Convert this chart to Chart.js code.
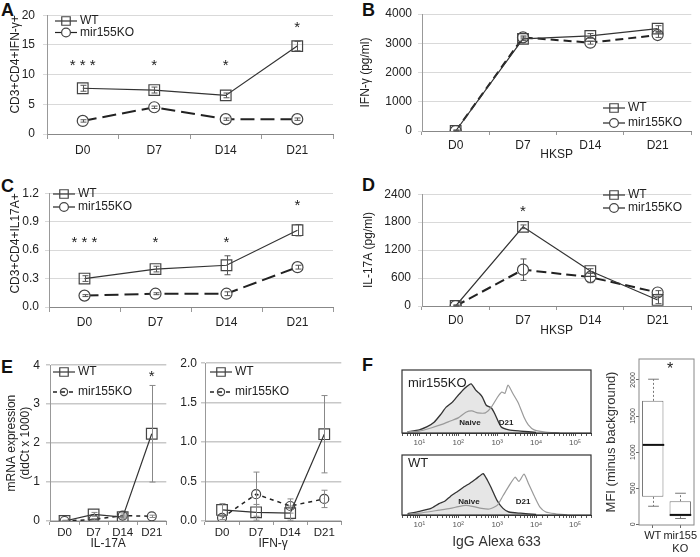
<!DOCTYPE html>
<html>
<head>
<meta charset="utf-8">
<title>mir155KO vs WT</title>
<script src="https://cdn.jsdelivr.net/npm/chart.js@4.4.1/dist/chart.umd.min.js"></script>
<style>
  body { margin: 0; width: 700px; height: 557px; position: relative; overflow: hidden; background: #fff;
         font-family: "Liberation Sans", Arial, sans-serif; color: #222; }
  canvas { position: absolute; }
  .panel { position: absolute; font-weight: bold; font-size: 18px; line-height: 18px; color: #111; }
  .note { position: absolute; line-height: 1; white-space: nowrap; font-size: 13px; color: #222; }
  .mid { position: absolute; transform: translate(-50%, -50%); font-weight: bold; font-size: 8px; color: #222; white-space: nowrap; }
</style>
</head>
<body>
<div class="panel" style="left:1px;top:1px">A</div>
<div class="panel" style="left:362px;top:1px">B</div>
<div class="panel" style="left:1px;top:177px">C</div>
<div class="panel" style="left:362px;top:176px">D</div>
<div class="panel" style="left:1px;top:358px">E</div>
<div class="panel" style="left:362px;top:356px">F</div>

<canvas id="chartA" width="345" height="172" style="left:0;top:0"></canvas>
<canvas id="chartB" width="350" height="162" style="left:350px;top:0"></canvas>
<canvas id="chartC" width="345" height="172" style="left:0;top:180px"></canvas>
<canvas id="chartD" width="350" height="158" style="left:350px;top:180px"></canvas>
<canvas id="chartE1" width="175" height="199" style="left:0;top:352px"></canvas>
<canvas id="chartE2" width="175" height="199" style="left:175px;top:352px"></canvas>
<canvas id="histKO" width="215" height="95" style="left:380px;top:362px"></canvas>
<canvas id="histWT" width="215" height="106" style="left:380px;top:445px"></canvas>
<canvas id="boxMFI" width="98" height="205" style="left:602px;top:352px"></canvas>

<div class="note" style="left:408px;top:376px">mir155KO</div>
<div class="note" style="left:408px;top:456px">WT</div>
<div class="mid" style="left:470px;top:422px">Naive</div>
<div class="mid" style="left:506px;top:422px">D21</div>
<div class="mid" style="left:469px;top:501px">Naive</div>
<div class="mid" style="left:523px;top:501px">D21</div>
<div class="mid" style="left:670px;top:369px;font-size:16px;font-weight:normal">*</div>

<script>
// time points
const days = ['D0', 'D7', 'D14', 'D21'];

// A - CD3+CD4+IFN-γ+
const aWT = [7.7, 7.4, 6.5, 14.8];
const aWTerr = [0.5, 0.5, 0.4, 0.8];
const aKO = [2.2, 4.5, 2.5, 2.5];
const aKOerr = [0.2, 0.2, 0.2, 0.2];
const aStars = ['* * *', '*', '*', '*'];
const aStarY = [11.9, 11.9, 11.9, 18.3];
const aTicks = [0, 5, 10, 15, 20];

// B - IFN-γ (pg/ml)
const bWT = [0, 3150, 3250, 3500];
const bWTerr = [30, 60, 80, 100];
const bKO = [0, 3200, 3020, 3280];
const bKOerr = [30, 50, 50, 80];
const bTicks = [0, 1000, 2000, 3000, 4000];

// C - CD3+CD4+IL17A+
const cWT = [0.30, 0.40, 0.44, 0.81];
const cWTerr = [0.03, 0.03, 0.10, 0.06];
const cKO = [0.12, 0.14, 0.14, 0.42];
const cKOerr = [0.01, 0.01, 0.02, 0.02];
const cStars = ['* * *', '*', '*', '*'];
const cStarY = [0.71, 0.71, 0.71, 1.10];
const cTicks = [0, 0.3, 0.6, 0.9, 1.2];

// D - IL-17A (pg/ml)
const dWT = [0, 1700, 750, 130];
const dWTerr = [20, 40, 50, 80];
const dKO = [0, 780, 620, 290];
const dKOerr = [20, 230, 120, 40];
const dStars = ['', '*', '', ''];
const dStarY = [0, 2075, 0, 0];
const dTicks = [0, 600, 1200, 1800, 2400];

// E - mRNA expression
const eIlWT = [0, 0.17, 0.10, 2.24];
const eIlWTerr = [0.02, 0.05, 0.03, 1.24];
const eIlKO = [0, 0.04, 0.14, 0.12];
const eIlKOerr = [0.01, 0.02, 0.04, 0.03];
const eIlStars = ['', '', '', '*'];
const eIlStarY = [0, 0, 0, 3.78];
const eIlTicks = [0, 1, 2, 3, 4];

const eIfWT = [0.14, 0.11, 0.10, 1.10];
const eIfWTerr = [0.08, 0.10, 0.09, 0.49];
const eIfKO = [0.04, 0.34, 0.19, 0.28];
const eIfKOerr = [0.02, 0.28, 0.09, 0.11];
const eIfTicks = [0, 0.5, 1.0, 1.5, 2.0];

// F - histograms (fluorescence, % of frame height)
const koNaiveX = [5, 10, 16, 24, 35, 49, 71, 100, 141, 214, 282, 347, 417, 525, 708, 891, 1259, 1995, 3981, 10000];
const koNaiveY = [2, 5, 10, 17, 29, 41, 49, 60, 70, 78, 68, 63, 57, 44, 40, 29, 10, 5, 3, 1];
const koD21X = [5, 10, 20, 40, 63, 100, 158, 224, 316, 500, 708, 1000, 1318, 1585, 1905, 2512, 3467, 4898, 6310, 8913, 15849, 39811];
const koD21Y = [2, 3, 8, 14, 19, 24, 33, 35, 32, 32, 41, 56, 65, 63, 76, 63, 48, 25, 13, 5, 2, 0];
const wtNaiveX = [5, 10, 20, 32, 45, 63, 100, 141, 200, 282, 355, 437, 562, 708, 1000, 1413, 1995, 3981, 10000];
const wtNaiveY = [2, 6, 11, 19, 23, 31, 40, 47, 53, 60, 65, 69, 58, 45, 24, 11, 5, 3, 1];
const wtD21X = [5, 10, 32, 63, 100, 158, 251, 398, 631, 1000, 1413, 1995, 2884, 3631, 4898, 6310, 8913, 12589, 17783, 31623, 63096];
const wtD21Y = [1, 3, 8, 11, 14, 16, 14, 11, 10, 16, 32, 48, 63, 56, 68, 53, 32, 13, 5, 2, 0];
const decadeLabels = { 10: '10¹', 100: '10²', 1000: '10³', 10000: '10⁴', 100000: '10⁵' };

// F - MFI box plot
const mfiGroups = ['WT', ['mir155', 'KO']];
const mfiMin = [250, 80];
const mfiQ1 = [380, 110];
const mfiMed = [1100, 130];
const mfiQ3 = [1710, 320];
const mfiMax = [2010, 430];
const mfiTicks = [0, 500, 1000, 1500, 2000];

const FONT = '"Liberation Sans", Arial, sans-serif';
Chart.defaults.font.family = FONT;
Chart.defaults.font.size = 12;
Chart.defaults.color = '#222';

function marker(ctx, style, x, y, r, fill, stroke) {
    ctx.save();
    ctx.beginPath();
    if (style === 'rect') {
        const s = r * Math.SQRT1_2;
        ctx.rect(x - s, y - s, 2 * s, 2 * s);
    } else {
        ctx.arc(x, y, r, 0, Math.PI * 2);
    }
    ctx.fillStyle = fill;
    ctx.fill();
    ctx.lineWidth = 1.2;
    ctx.strokeStyle = stroke;
    ctx.stroke();
    ctx.restore();
}

const miniLegend = {
    id: 'miniLegend',
    afterDraw(chart, args, o) {
        if (o.x === undefined) return;
        const ctx = chart.ctx;
        chart.data.datasets.forEach((ds, i) => {
            const y = o.y + i * o.gap;
            ctx.save();
            ctx.strokeStyle = ds.borderColor;
            ctx.lineWidth = o.solid ? 1.2 : ds.borderWidth;
            ctx.setLineDash(o.solid ? [] : (ds.borderDash || []));
            ctx.beginPath();
            ctx.moveTo(o.x, y);
            ctx.lineTo(o.x + o.len, y);
            ctx.stroke();
            ctx.restore();
            marker(ctx, ds.pointStyle, o.x + o.len / 2, y, ds.pointRadius * 0.8, ds.pointBackgroundColor, ds.pointBorderColor);
            ctx.fillStyle = '#222';
            ctx.font = '12px ' + FONT;
            ctx.textBaseline = 'middle';
            ctx.fillText(ds.label, o.x + o.len + 3, y);
        });
    }
};

const errorBars = {
    id: 'errorBars',
    afterDatasetsDraw(chart, args, o) {
        const ctx = chart.ctx, ys = chart.scales.y;
        chart.data.datasets.forEach((ds, i) => {
            if (!ds.errors) return;
            const pts = chart.getDatasetMeta(i).data;
            ctx.save();
            ctx.strokeStyle = o.color || '#555';
            ctx.lineWidth = 1;
            pts.forEach((p, j) => {
                const e = ds.errors[j];
                if (!e) return;
                const v = ds.data[j];
                const y1 = ys.getPixelForValue(v + e);
                const y2 = ys.getPixelForValue(Math.max(v - e, ys.min));
                const x = Math.round(p.x) + 0.5;
                ctx.beginPath();
                ctx.moveTo(x, y1); ctx.lineTo(x, y2);
                ctx.moveTo(x - 3, y1); ctx.lineTo(x + 3, y1);
                ctx.moveTo(x - 3, y2); ctx.lineTo(x + 3, y2);
                ctx.stroke();
            });
            ctx.restore();
        });
    }
};

const stars = {
    id: 'stars',
    afterDatasetsDraw(chart, args, o) {
        if (!o.labels) return;
        const ctx = chart.ctx, xs = chart.scales.x, ys = chart.scales.y;
        ctx.save();
        ctx.fillStyle = '#222';
        ctx.font = '15px ' + FONT;
        ctx.textAlign = 'center';
        ctx.textBaseline = 'middle';
        o.labels.forEach((t, i) => {
            if (t) ctx.fillText(t, xs.getPixelForValue(i), ys.getPixelForValue(o.values[i]) + 3);
        });
        ctx.restore();
    }
};

const frame = {
    id: 'frame',
    afterDraw(chart, args, o) {
        const { left, top, right, bottom } = chart.chartArea;
        const ctx = chart.ctx;
        ctx.save();
        ctx.strokeStyle = o.color || '#333';
        ctx.lineWidth = o.width || 1.2;
        ctx.strokeRect(left, top, right - left, bottom - top);
        ctx.restore();
    }
};

function lineChart(id, g, s) {
    return new Chart(document.getElementById(id), {
        type: 'line',
        data: {
            labels: days,
            datasets: [
                {
                    label: 'WT', data: s.wt, errors: s.wtErr,
                    borderColor: '#333', borderWidth: 1.2,
                    pointStyle: 'rect', pointRadius: g.sq, pointBackgroundColor: 'rgba(255,255,255,0)',
                    pointBorderColor: '#444', pointBorderWidth: 1.2
                },
                {
                    label: 'mir155KO', data: s.ko, errors: s.koErr,
                    borderColor: '#222', borderWidth: g.koWidth, borderDash: g.dash,
                    pointStyle: 'circle', pointRadius: g.ci, pointBackgroundColor: g.ciFill,
                    pointBorderColor: '#444', pointBorderWidth: 1.2
                }
            ]
        },
        options: {
            responsive: false,
            animation: false,
            layout: { padding: { top: g.top, right: g.right, left: 0, bottom: 0 } },
            plugins: {
                legend: { display: false },
                tooltip: { enabled: false },
                miniLegend: g.legend,
                stars: { labels: s.stars, values: s.starY },
                errorBars: { color: g.errColor }
            },
            scales: {
                x: {
                    offset: true,
                    grid: { offset: true, drawOnChartArea: false, tickLength: g.xtl, color: '#999' },
                    border: { color: '#888' },
                    ticks: { padding: g.xpad, font: { size: g.xfs }, color: '#222', maxRotation: 0 },
                    title: { display: !!s.xTitle, text: s.xTitle, font: { size: 12 }, color: '#222', padding: { top: 0, bottom: 0 } },
                    afterFit: (sc) => { sc.height = g.xh; }
                },
                y: {
                    min: s.ticks[0],
                    max: s.ticks[s.ticks.length - 1],
                    afterBuildTicks: (sc) => { sc.ticks = s.ticks.map(v => ({ value: v })); },
                    grid: { color: g.gridColor, lineWidth: g.gridWidth, tickLength: 4 },
                    border: { color: '#999' },
                    ticks: { padding: g.ypad, font: { size: 12 }, color: '#222', callback: s.fmt },
                    title: { display: !!s.yTitle, text: s.yTitle, align: g.yAlign || 'center', font: { size: 12 }, color: '#222',
                             padding: { top: g.ytp, bottom: 0 } },
                    afterFit: (sc) => { sc.width = g.yw; }
                }
            }
        },
        plugins: [errorBars, stars, miniLegend]
    });
}

const plain = v => String(v);
const oneDec = v => Number(v).toFixed(1);
const topRow = { sq: 7.5, ci: 5.5, ciFill: '#fff', koWidth: 2, gridColor: '#d9d9d9', gridWidth: 1, errColor: '#555', xfs: 12 };

lineChart('chartA',
    { ...topRow, top: 13, right: 12, yw: 47, xh: 38, xtl: 5, xpad: 4, ypad: 8, ytp: 8, yAlign: 'end', dash: [14, 6],
      legend: { x: 55, y: 21, gap: 11.5, len: 22, solid: true } },
    { wt: aWT, wtErr: aWTerr, ko: aKO, koErr: aKOerr, ticks: aTicks, fmt: plain,
      yTitle: 'CD3+CD4+IFN-γ+', stars: aStars, starY: aStarY });

lineChart('chartB',
    { ...topRow, top: 14, right: 7, yw: 72, xh: 31, xtl: 4, xpad: 3, ypad: 6, ytp: 8, dash: [8, 5],
      legend: { x: 253, y: 108, gap: 15, len: 22, solid: true } },
    { wt: bWT, wtErr: bWTerr, ko: bKO, koErr: bKOerr, ticks: bTicks, fmt: plain,
      yTitle: 'IFN-γ (pg/ml)', xTitle: 'HKSP' });

lineChart('chartC',
    { ...topRow, top: 9, right: 12, yw: 49, xh: 45, xtl: 5, xpad: 3, ypad: 6, ytp: 8, yAlign: 'end', dash: [14, 6],
      legend: { x: 53, y: 14, gap: 13, len: 22, solid: true } },
    { wt: cWT, wtErr: cWTerr, ko: cKO, koErr: cKOerr, ticks: cTicks, fmt: oneDec,
      yTitle: 'CD3+CD4+IL17A+', stars: cStars, starY: cStarY });

lineChart('chartD',
    { ...topRow, top: 8, right: 7, yw: 72, xh: 32, xtl: 4, xpad: 3, ypad: 7, ytp: 11, dash: [10, 5],
      legend: { x: 253, y: 15, gap: 13, len: 22, solid: true } },
    { wt: dWT, wtErr: dWTerr, ko: dKO, koErr: dKOerr, ticks: dTicks, fmt: plain,
      yTitle: 'IL-17A (pg/ml)', xTitle: 'HKSP', stars: dStars, starY: dStarY });

const eRow = { sq: 7.5, ci: 4.5, ciFill: 'rgba(255,255,255,0)', koWidth: 1.5, gridColor: '#c8c8c8', gridWidth: 1.5,
               errColor: '#888', xfs: 11.5, top: 9, xh: 30, xtl: 4, xpad: 1, dash: [4, 4] };

lineChart('chartE1',
    { ...eRow, right: 8, yw: 50, ypad: 6, ytp: 4,
      legend: { x: 53, y: 20, gap: 20, len: 22 } },
    { wt: eIlWT, wtErr: eIlWTerr, ko: eIlKO, koErr: eIlKOerr, ticks: eIlTicks, fmt: plain,
      yTitle: ['mRNA expression', '(ddCt x 1000)'], xTitle: 'IL-17A', stars: eIlStars, starY: eIlStarY });

lineChart('chartE2',
    { ...eRow, right: 7, yw: 30, ypad: 4, ytp: 0,
      legend: { x: 35, y: 20, gap: 20, len: 22 } },
    { wt: eIfWT, wtErr: eIfWTerr, ko: eIfKO, koErr: eIfKOerr, ticks: eIfTicks, fmt: oneDec,
      xTitle: 'IFN-γ' });

function histChart(id, g, naiveX, naiveY, d21X, d21Y, xTitle) {
    return new Chart(document.getElementById(id), {
        type: 'line',
        data: {
            datasets: [
                { data: naiveX.map((x, i) => ({ x, y: naiveY[i] })), borderColor: '#333', borderWidth: 1.3,
                  backgroundColor: '#e6e6e6', fill: 'origin', pointRadius: 0, tension: 0.2, order: 2 },
                { data: d21X.map((x, i) => ({ x, y: d21Y[i] })), borderColor: '#9a9a9a', borderWidth: 1.2,
                  fill: false, pointRadius: 0, tension: 0.2, order: 1 }
            ]
        },
        options: {
            responsive: false,
            animation: false,
            layout: { padding: { top: g.top, right: 4, left: 22, bottom: 0 } },
            plugins: { legend: { display: false }, tooltip: { enabled: false } },
            scales: {
                x: {
                    type: 'logarithmic', min: 3.6, max: 257000,
                    grid: { drawOnChartArea: false, tickLength: 3, color: '#555' },
                    border: { color: '#333' },
                    ticks: { autoSkip: false, maxRotation: 0, padding: g.xpad, font: { size: 8 }, color: '#555',
                             callback: v => decadeLabels[v] || '' },
                    title: { display: !!xTitle, text: xTitle, font: { size: 14 }, color: '#333', padding: { top: 0, bottom: 0 } },
                    afterFit: (sc) => { sc.height = g.xh; }
                },
                y: { display: false, min: 0, max: 100 }
            }
        },
        plugins: [frame]
    });
}

histChart('histKO', { top: 8, xh: 24, xpad: 2 }, koNaiveX, koNaiveY, koD21X, koD21Y);
histChart('histWT', { top: 10, xh: 36, xpad: 2 }, wtNaiveX, wtNaiveY, wtD21X, wtD21Y, 'IgG Alexa 633');

const whiskers = {
    id: 'whiskers',
    afterDatasetsDraw(chart, args, o) {
        const ctx = chart.ctx, ys = chart.scales.y;
        chart.getDatasetMeta(0).data.forEach((b, i) => {
            const x = Math.round(b.x) + 0.5, half = b.width / 2, cap = b.width / 4;
            const yMin = ys.getPixelForValue(mfiMin[i]), yMax = ys.getPixelForValue(mfiMax[i]);
            const yQ1 = ys.getPixelForValue(mfiQ1[i]), yQ3 = ys.getPixelForValue(mfiQ3[i]);
            const yMed = ys.getPixelForValue(mfiMed[i]);
            ctx.save();
            ctx.strokeStyle = '#777';
            ctx.lineWidth = 1;
            ctx.setLineDash([2, 2]);
            ctx.beginPath();
            ctx.moveTo(x, yQ3); ctx.lineTo(x, yMax);
            ctx.moveTo(x, yQ1); ctx.lineTo(x, yMin);
            ctx.stroke();
            ctx.setLineDash([]);
            ctx.beginPath();
            ctx.moveTo(x - cap, yMax); ctx.lineTo(x + cap, yMax);
            ctx.moveTo(x - cap, yMin); ctx.lineTo(x + cap, yMin);
            ctx.stroke();
            ctx.strokeStyle = '#111';
            ctx.lineWidth = 2;
            ctx.beginPath();
            ctx.moveTo(x - half, yMed); ctx.lineTo(x + half, yMed);
            ctx.stroke();
            ctx.restore();
        });
    }
};

// R style rotated y labels
const rotatedTicks = {
    id: 'rotatedTicks',
    afterDraw(chart) {
        const ctx = chart.ctx, ys = chart.scales.y, x = chart.chartArea.left - 6;
        ctx.save();
        ctx.font = '7px ' + FONT;
        ctx.fillStyle = '#444';
        ctx.textAlign = 'center';
        ctx.textBaseline = 'middle';
        ys.ticks.forEach(t => {
            ctx.save();
            ctx.translate(x, ys.getPixelForValue(t.value));
            ctx.rotate(-Math.PI / 2);
            ctx.fillText(String(t.value), 0, 0);
            ctx.restore();
        });
        ctx.restore();
    }
};

new Chart(document.getElementById('boxMFI'), {
    type: 'bar',
    data: {
        labels: mfiGroups,
        datasets: [{
            data: mfiQ1.map((q, i) => [q, mfiQ3[i]]),
            backgroundColor: '#fff', borderColor: '#777', borderWidth: 1, borderSkipped: false,
            barPercentage: 0.78, categoryPercentage: 1
        }]
    },
    options: {
        responsive: false,
        animation: false,
        layout: { padding: { top: 7, right: 6, left: 0, bottom: 0 } },
        plugins: { legend: { display: false }, tooltip: { enabled: false }, frame: { color: '#888', width: 1 } },
        scales: {
            x: {
                grid: { offset: false, drawOnChartArea: false, tickLength: 3, color: '#666' },
                border: { display: false },
                ticks: { padding: 1, font: { size: 11 }, color: '#222', autoSkip: false, minRotation: 0, maxRotation: 0 },
                afterFit: (sc) => { sc.height = 32; }
            },
            y: {
                min: -10, max: 2290,
                afterBuildTicks: (sc) => { sc.ticks = mfiTicks.map(v => ({ value: v })); },
                grid: { drawOnChartArea: false, tickLength: 3, color: '#666' },
                border: { display: false },
                ticks: { display: false },
                title: { display: true, text: 'MFI (minus background)', font: { size: 13 }, color: '#333', padding: { top: 2, bottom: 0 } },
                afterFit: (sc) => { sc.width = 37; }
            }
        }
    },
    plugins: [whiskers, rotatedTicks, frame]
});
</script>
</body>
</html>
